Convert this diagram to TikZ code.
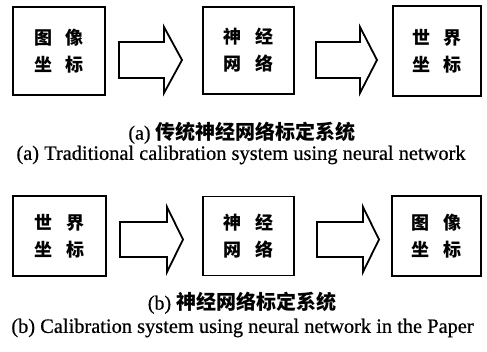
\documentclass[tikz,border=0pt]{standalone}
\usepackage{fontspec}
\setmainfont{Liberation Serif}
\newfontfamily\capfont[FakeBold=0.6]{Liberation Serif}
\newfontfamily\cjk{Noto Sans CJK SC}
\tikzset{
  boxnode/.style={draw=black, line width=1.8pt, inner sep=0pt, align=center,
    font=\cjk\bfseries\fontsize{18}{27}\selectfont},
  blockarrow/.style={draw=black, line width=1.8pt, line join=miter},
  capcn/.style={inner sep=0pt, font=\capfont\fontsize{20}{24}\selectfont},
  capen/.style={inner sep=0pt, font=\capfont\fontsize{20.4}{24}\selectfont}
}
\newcommand{\twochars}[4]{#1\hspace{14pt}#2\\#3\hspace{14pt}#4}
\begin{document}
\begin{tikzpicture}[x=1pt,y=-1pt]
\useasboundingbox (0,0) rectangle (487,351);
% top row
\node[boxnode, minimum width=92pt, minimum height=88pt] (a1) at (59,51) {\twochars{图}{像}{坐}{标}};
\node[boxnode, minimum width=91pt, minimum height=87pt] (a2) at (248.5,50.5) {\twochars{神}{经}{网}{络}};
\node[boxnode, minimum width=88pt, minimum height=90pt] (a3) at (437,51) {\twochars{世}{界}{坐}{标}};
\draw[blockarrow] (119,42) -- (164,42) -- (164,27) -- (182,60) -- (164,93) -- (164,78) -- (119,78) -- cycle;
\draw[blockarrow] (316,42) -- (360,42) -- (360,27) -- (377,60) -- (360,93) -- (360,78) -- (316,78) -- cycle;
\node[capcn] (ca) at (242,133) {(a) {\cjk\bfseries 传统神经网络标定系统}};
\node[capen] (ea) at (241,155) {(a) Traditional calibration system using neural network};
% bottom row
\node[boxnode, minimum width=93pt, minimum height=80pt] (b1) at (59.5,236) {\twochars{世}{界}{坐}{标}};
\node[boxnode, minimum width=91pt, minimum height=79pt] (b2) at (248.5,236) {\twochars{神}{经}{网}{络}};
\node[boxnode, minimum width=89pt, minimum height=80pt] (b3) at (436.5,236) {\twochars{图}{像}{坐}{标}};
\draw[blockarrow] (120,222) -- (167,222) -- (167,207) -- (183,239.5) -- (167,272) -- (167,257) -- (120,257) -- cycle;
\draw[blockarrow] (317,222) -- (363,222) -- (363,207) -- (379,239.5) -- (363,272) -- (363,257) -- (317,257) -- cycle;
\node[capcn] (cb) at (242,303) {(b) {\cjk\bfseries 神经网络标定系统}};
\node[capen] (eb) at (242.5,328) {(b) Calibration system using neural network in the Paper};
\end{tikzpicture}
\end{document}
